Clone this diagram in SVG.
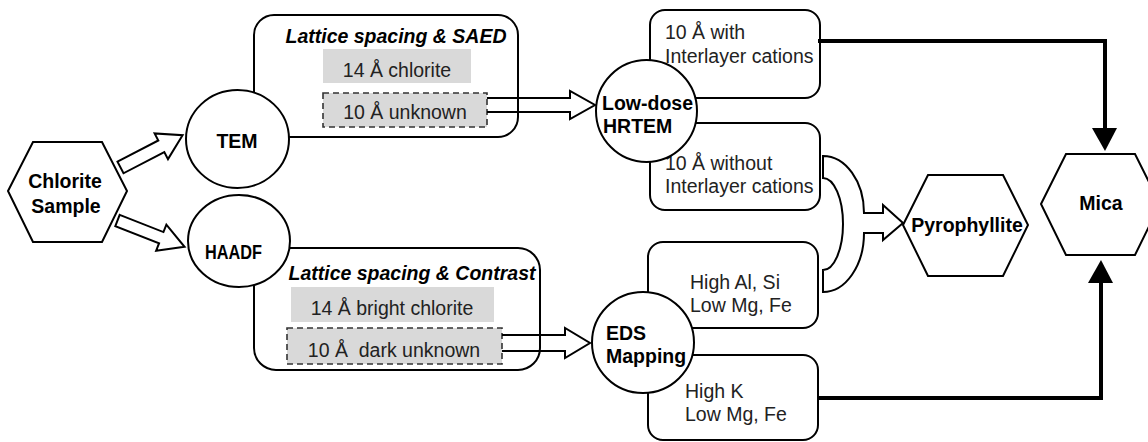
<svg xmlns="http://www.w3.org/2000/svg" width="1148" height="442" viewBox="0 0 1148 442">
<defs>
<style>
.ln{fill:none;stroke:#000;stroke-width:2}
.nd{fill:#fff;stroke:#000;stroke-width:2}
.gray{fill:#d9d9d9;stroke:none}
.dash{fill:#d9d9d9;stroke:#333;stroke-width:1.6;stroke-dasharray:6 4}
.b{font-family:"Liberation Sans",Arial,sans-serif;font-weight:bold;font-size:19.5px;fill:#000}
.bi{font-family:"Liberation Sans",Arial,sans-serif;font-weight:bold;font-style:italic;font-size:19.5px;fill:#000}
.r{font-family:"Liberation Sans",Arial,sans-serif;font-size:19.5px;fill:#222;white-space:pre}
.m{text-anchor:middle}
.hol{fill:none;stroke:#000;stroke-width:2;stroke-linejoin:miter}
.thick{fill:none;stroke:#000;stroke-width:4}
</style>
<marker id="ah" markerWidth="7" markerHeight="6" refX="6.5" refY="3" orient="auto" markerUnits="strokeWidth">
<path d="M0,0 L7,3 L0,6 Z" fill="#000"/>
</marker>
</defs>
<rect width="1148" height="442" fill="#fff"/>

<g id="sem-box">
<rect class="ln" x="254" y="15" width="264" height="122" rx="20"/>
<text class="bi m" x="396" y="43">Lattice spacing &amp; SAED</text>
<rect class="gray" x="323" y="49" width="148" height="34"/>
<text class="r m" x="397" y="77">14 Å chlorite</text>
<rect class="dash" x="323" y="93" width="164" height="34"/>
<text class="r m" x="405" y="119">10 Å unknown</text>
</g>

<g id="haadf-box">
<rect class="ln" x="254" y="248" width="286" height="122" rx="22"/>
<text class="bi m" x="412" y="280">Lattice spacing &amp; Contrast</text>
<rect class="gray" x="291" y="287" width="203" height="35"/>
<text class="r m" x="392" y="315">14 Å bright chlorite</text>
<rect class="dash" x="287" y="328" width="215" height="36"/>
<text class="r m" x="394" y="357">10 Å  dark unknown</text>
</g>

<g id="box-with">
<rect class="ln" x="650" y="10" width="170" height="88" rx="15"/>
<text class="r" x="665" y="39">10 Å with</text>
<text class="r" x="665" y="63">Interlayer cations</text>
</g>
<g id="box-without">
<rect class="ln" x="650" y="123" width="170" height="87" rx="15"/>
<text class="r" x="665" y="170">10 Å without</text>
<text class="r" x="665" y="193">Interlayer cations</text>
</g>
<g id="box-alsi">
<rect class="ln" x="648" y="242" width="170" height="86" rx="15"/>
<text class="r" x="690" y="289">High Al, Si</text>
<text class="r" x="690" y="312">Low Mg, Fe</text>
</g>
<g id="box-k">
<rect class="ln" x="648" y="355" width="170" height="85" rx="15"/>
<text class="r" x="685" y="398">High K</text>
<text class="r" x="685" y="421">Low Mg, Fe</text>
</g>

<g id="connectors">
<path class="hol" transform="translate(120.5,167.5) rotate(-27.5)" d="M0,-6.5 H46 V-14.5 L70,0 L46,14.5 V6.5 H0 Z"/>
<path class="hol" transform="translate(117.5,220.5) rotate(21.4)" d="M0,-6 H47 V-14 L72,0 L47,14 V6 H0 Z"/>
<path class="hol" d="M487,98 H570 V91 L595,105 L570,119 V112 H487"/>
<path class="hol" d="M502,335 H565 V328 L590,343 L565,358 V351 H502"/>
<path class="hol" d="M823,156 A41,57 0 0 1 864,213 H883 V205 L903,223 L883,240 V233 H864 A41,59 0 0 1 823,292 V270 A20,46 0 0 0 823,178 Z"/>
<path class="thick" d="M818,41 H1105 V130"/>
<path d="M1092,128 L1117,128 L1105,151 Z" fill="#000"/>
<path class="thick" d="M818,398 H1101 V280"/>
<path d="M1088,283 L1113,283 L1101,260 Z" fill="#000"/>
</g>

<g id="chlorite">
<polygon class="nd" points="8,191 33,142 102,142 127,191 102,242 33,242"/>
<text class="b m" x="65" y="188">Chlorite</text>
<text class="b m" x="66" y="213">Sample</text>
</g>
<g id="tem">
<ellipse class="nd" cx="237.5" cy="139" rx="51.5" ry="49"/>
<text class="b m" x="237" y="148">TEM</text>
</g>
<g id="haadf">
<ellipse class="nd" cx="239" cy="241" rx="51" ry="46"/>
<text class="b m" x="233.5" y="259" textLength="57" lengthAdjust="spacingAndGlyphs">HAADF</text>
</g>
<g id="hrtem">
<ellipse class="nd" cx="646.5" cy="111" rx="50.5" ry="51"/>
<text class="b" x="602" y="110">Low-dose</text>
<text class="b" x="603" y="133">HRTEM</text>
</g>
<g id="eds">
<ellipse class="nd" cx="643" cy="342.5" rx="51" ry="50.5"/>
<text class="b" x="606" y="340">EDS</text>
<text class="b" x="606" y="363">Mapping</text>
</g>
<g id="pyrophyllite">
<polygon class="nd" points="903,225 928,175 1003,175 1028,225 1003,276 928,276" style="fill:none"/>
<text class="b m" x="967" y="232">Pyrophyllite</text>
</g>
<g id="mica">
<polygon class="nd" points="1041,204 1066,154 1135,154 1160,204 1135,255 1066,255"/>
<text class="b m" x="1101" y="210">Mica</text>
</g>
</svg>
